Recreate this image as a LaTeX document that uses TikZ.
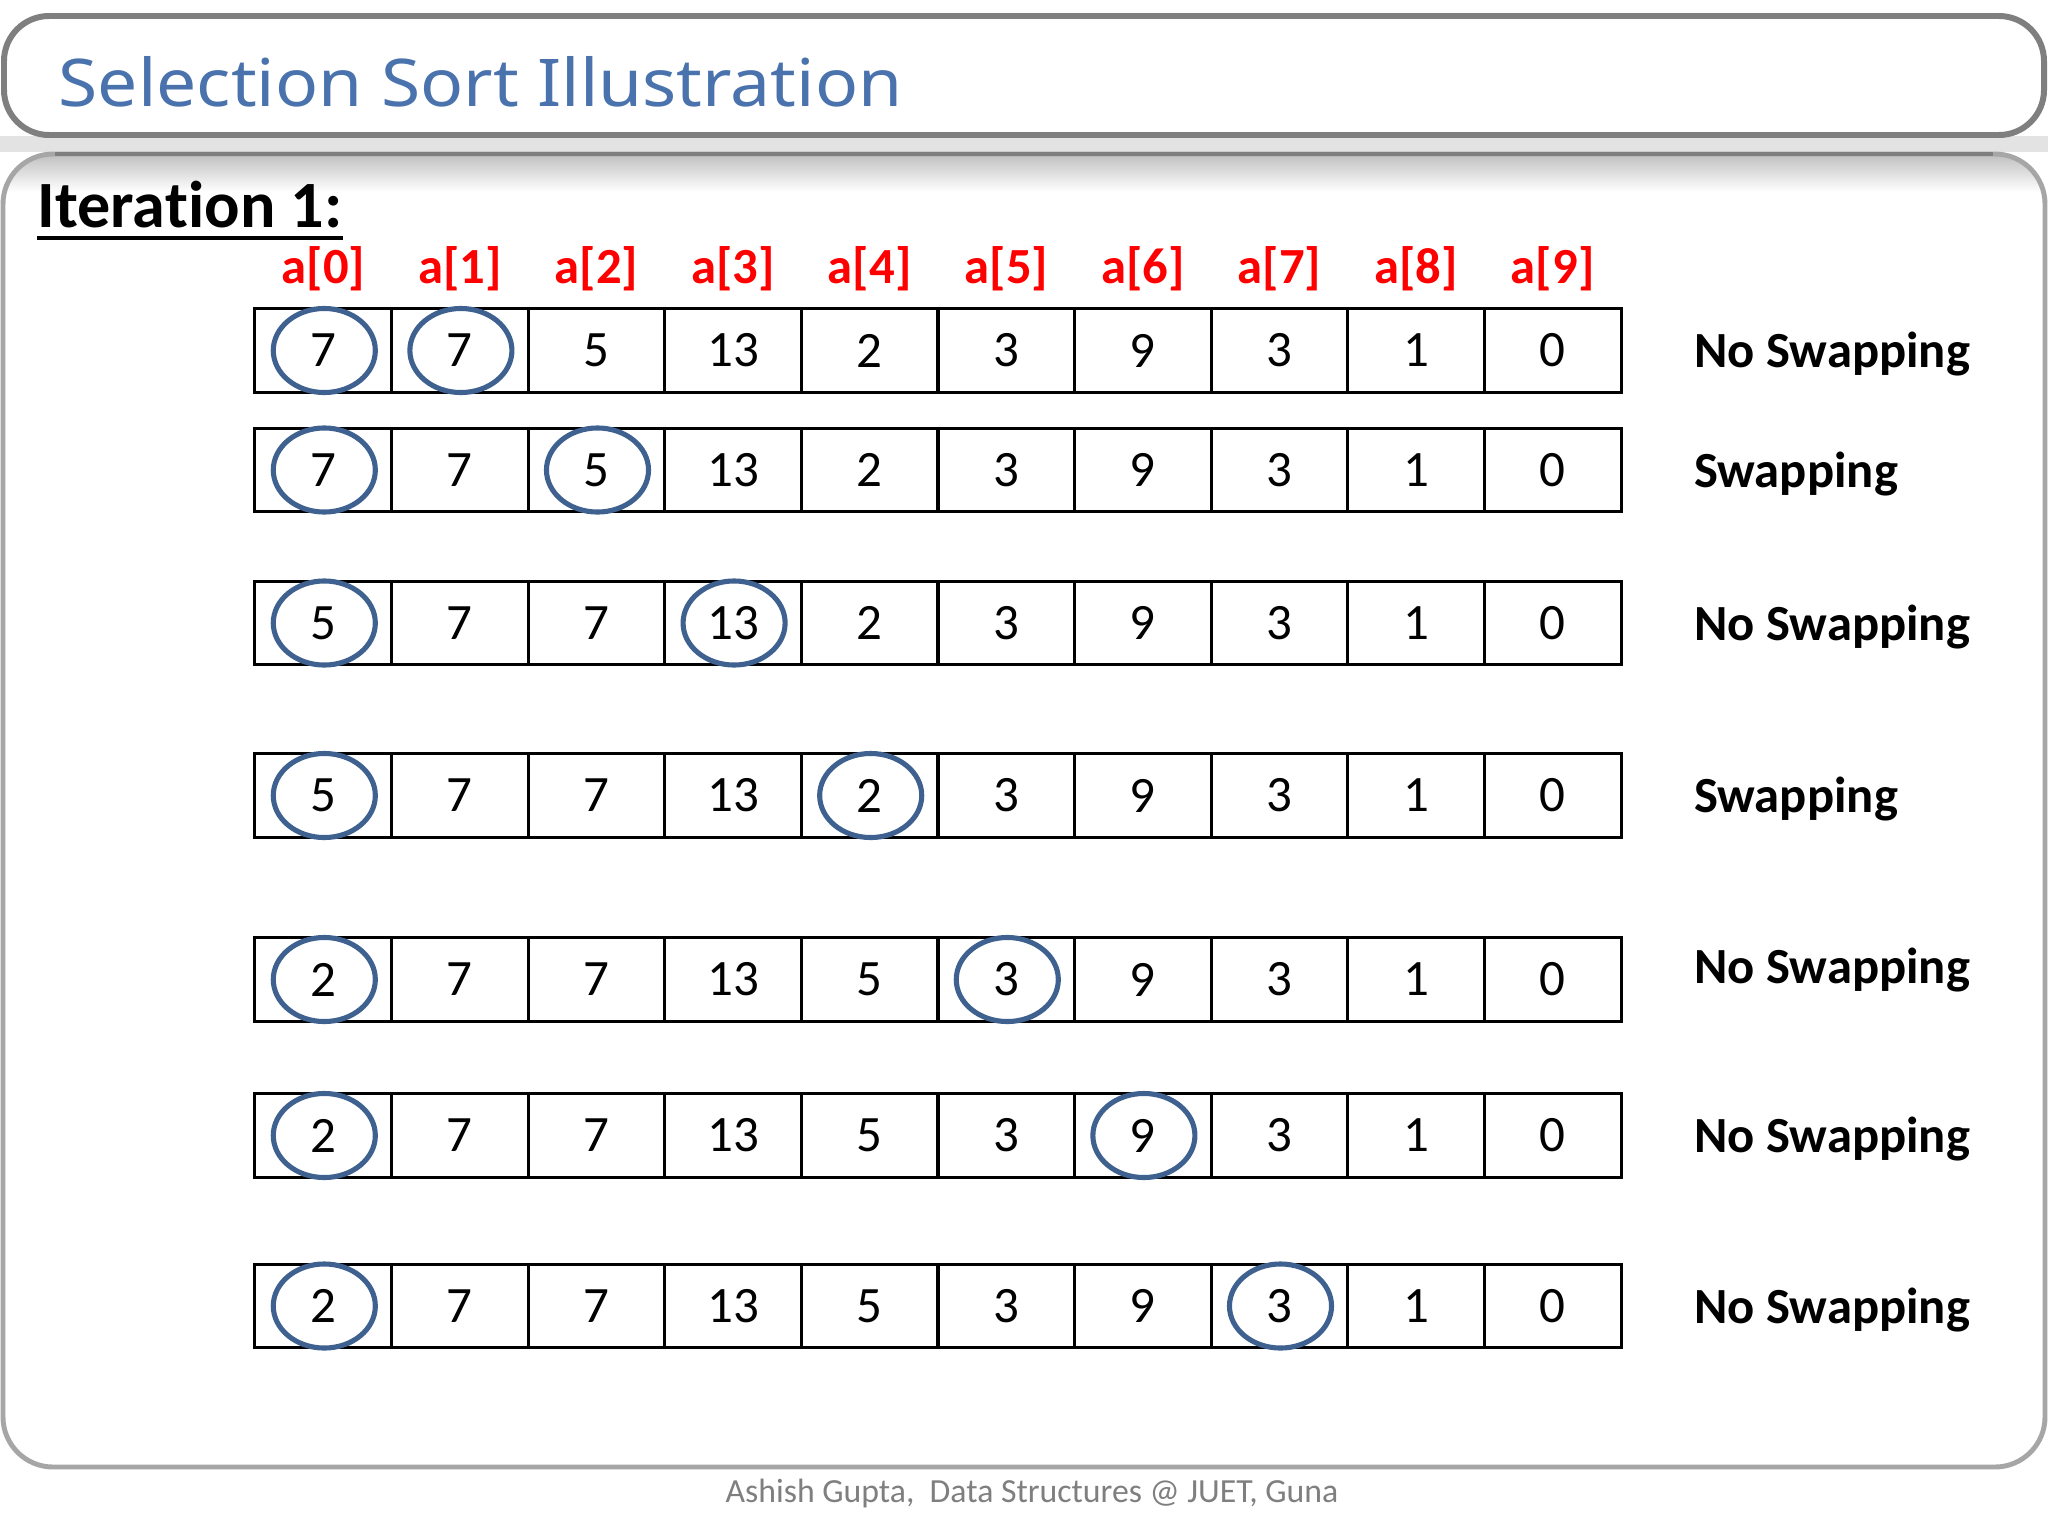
\documentclass[tikz,border=0pt]{standalone}
\usepackage{graphicx}
\usepackage{fontspec}
\setmainfont{Carlito}[Ligatures=NoCommon]
\newfontfamily\titlefont{Noto Sans}
\usetikzlibrary{positioning}
\definecolor{titleblue}{HTML}{4A73AD}
\definecolor{ringblue}{HTML}{3E6190}
\definecolor{framegray}{HTML}{7F7F7F}
\definecolor{panelgray}{HTML}{A6A6A6}
\definecolor{footgray}{HTML}{7F7F7F}

\begin{document}
\begin{tikzpicture}[x=0.01cm,y=-0.01cm,
    cell/.style={draw,line width=0.85pt,minimum width=1.366cm,minimum height=0.83cm,
      inner sep=0pt,font=\fontsize{14.5}{17}\selectfont},
    ring/.style={draw=ringblue,line width=1.45pt},
    idx/.style={text=red,inner sep=0pt,anchor=base,font=\fontsize{14.4}{17}\selectfont\bfseries},
    verdict/.style={inner sep=0pt,anchor=base west,font=\fontsize{14.4}{17}\selectfont\bfseries}]
    \fill[white] (0,0) rectangle (2048,1536);
    \useasboundingbox (0,0) rectangle (2048,1536);

    % panels
    \fill[gray!22] (0,136) rectangle (2048,152);
    \begin{scope}
        \clip[rounded corners=0.5cm] (3,154) rectangle (2045,1467);
        \shade[top color=gray!50, bottom color=white] (3,154) rectangle (2045,192);
    \end{scope}
    \draw[panelgray,line width=1.4pt,rounded corners=0.5cm] (3,154) rectangle (2045,1467);
    \draw[framegray,line width=1.4pt] (55,154) -- (1993,154);
    \draw[framegray,line width=1.7pt,rounded corners=0.45cm,fill=white] (4,16) rectangle (2044,135);

    \node[inner sep=0pt,anchor=base west,text=titleblue] (title) at (58,106)
        {\resizebox{8.43cm}{0.50cm}{\titlefont Selection Sort Illustration}};

    \node[inner sep=0pt,anchor=base west,font=\fontsize{18.8}{22}\selectfont\bfseries] (iter) at (37,227) {Itera\kern0pt tion 1:};
    \draw[line width=1.1pt] ([yshift=-0.11cm]iter.base west) -- ([yshift=-0.11cm]iter.base east);

    % rows of the array
    \foreach \v [count=\c from 0] in {7,7,5,13,2,3,9,3,1,0}
        \node[cell] (c-1-\c) at (323.3+136.6*\c,350.5) {\v};
    \foreach \v [count=\c from 0] in {7,7,5,13,2,3,9,3,1,0}
        \node[cell] (c-2-\c) at (323.3+136.6*\c,470) {\v};
    \foreach \v [count=\c from 0] in {5,7,7,13,2,3,9,3,1,0}
        \node[cell] (c-3-\c) at (323.3+136.6*\c,623) {\v};
    \foreach \v [count=\c from 0] in {5,7,7,13,2,3,9,3,1,0}
        \node[cell] (c-4-\c) at (323.3+136.6*\c,795.5) {\v};
    \foreach \v [count=\c from 0] in {2,7,7,13,5,3,9,3,1,0}
        \node[cell] (c-5-\c) at (323.3+136.6*\c,979.5) {\v};
    \foreach \v [count=\c from 0] in {2,7,7,13,5,3,9,3,1,0}
        \node[cell] (c-6-\c) at (323.3+136.6*\c,1135.5) {\v};
    \foreach \v [count=\c from 0] in {2,7,7,13,5,3,9,3,1,0}
        \node[cell] (c-7-\c) at (323.3+136.6*\c,1306) {\v};

    % index labels
    \foreach \c in {0,...,9}
        \node[idx] (a-\c) at ([yshift=0.24cm]c-1-\c.north) {a[\c]};

    % compared pairs
    \foreach \r/\c in {1/0,1/1,2/0,2/2,3/0,3/3,4/0,4/4,5/0,5/5,6/0,6/6,7/0,7/7}
        \draw[ring] ([xshift=0.01cm]c-\r-\c.center) ellipse [x radius=0.51cm,y radius=0.42cm];

    \node[verdict] (v-1) at ([xshift=0.71cm,yshift=-0.17cm]c-1-9.east) {No Swapping};
    \node[verdict] (v-2) at ([xshift=0.71cm,yshift=-0.17cm]c-2-9.east) {Swapping};
    \node[verdict] (v-3) at ([xshift=0.71cm,yshift=-0.17cm]c-3-9.east) {No Swapping};
    \node[verdict] (v-4) at ([xshift=0.71cm,yshift=-0.17cm]c-4-9.east) {Swapping};
    \node[verdict] (v-5) at ([xshift=0.71cm,yshift=-0.04cm]c-5-9.east) {No Swapping};
    \node[verdict] (v-6) at ([xshift=0.71cm,yshift=-0.17cm]c-6-9.east) {No Swapping};
    \node[verdict] (v-7) at ([xshift=0.71cm,yshift=-0.17cm]c-7-9.east) {No Swapping};

    \node[inner sep=0pt,anchor=base,text=footgray,font=\fontsize{9.6}{11}\selectfont] (foot) at (1032,1502)
        {Ashish Gupta,~ Data Structures @ JUET, Guna};
\end{tikzpicture}
\end{document}
